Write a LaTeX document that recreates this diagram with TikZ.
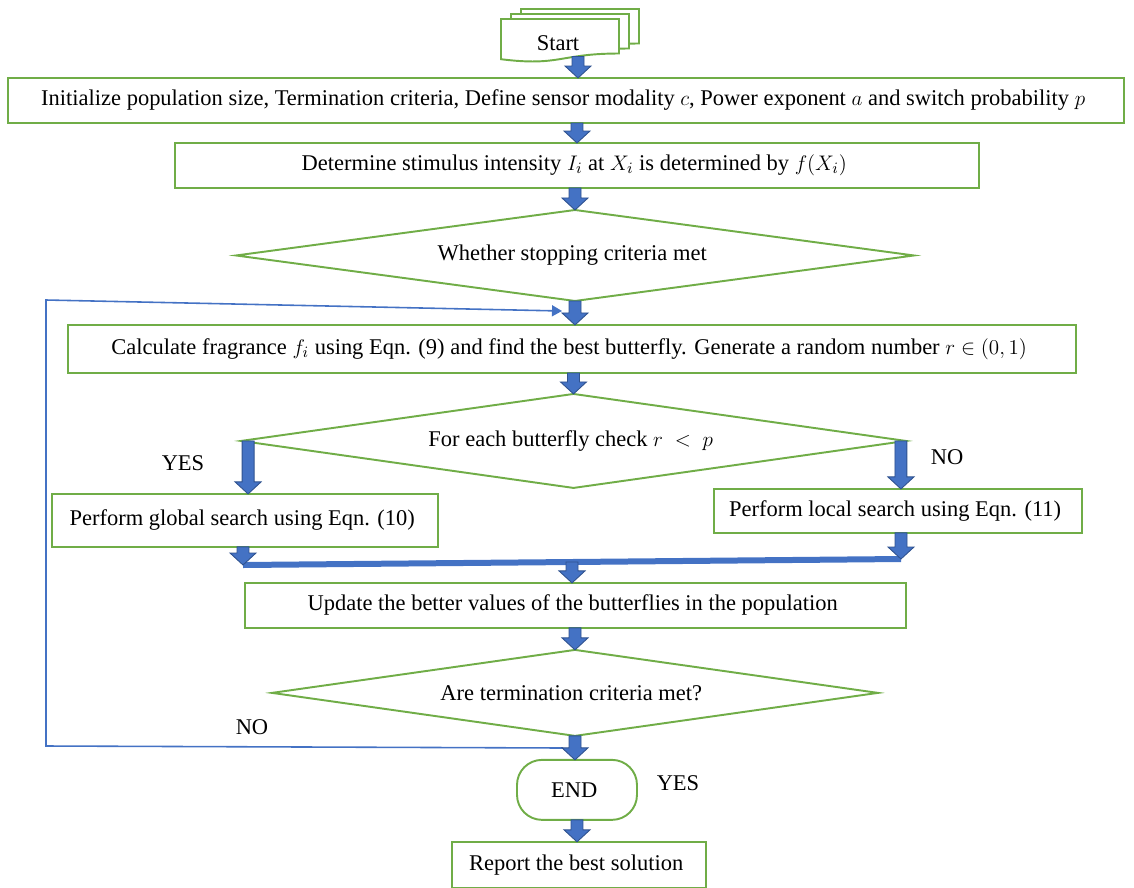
\documentclass[tikz,border=0pt]{standalone}
\usepackage{fontspec}
\setmainfont{Liberation Serif}
\usetikzlibrary{
  shapes.geometric,
  positioning,
  calc,
  arrows.meta}
\definecolor{boxcolor}{RGB}{112,173,71}
\definecolor{arrowcolor}{RGB}{68,114,196}
\definecolor{arrowedgecolor}{RGB}{47,82,143}
\tikzset{
  docstack/.pic = {
    \foreach \dx/\dy in {20/-10, 10/-5, 0/0}{
      \filldraw [fill=white, draw=boxcolor, line width=1.1pt, shift={(\dx,\dy)}]
        (0, 0) -- (118, 0) -- (118, 34.5)
        .. controls (59, 34.5) and (59, 47.6) .. (0, 40.2) -- cycle;
    }
    \node (-m) at (57, 24) {Start};
    \coordinate (-b) at (77, 37.5);
  }
}
\tikzset{
  %% process : a processing step
  process/.style={
    rectangle,
    draw=boxcolor,
    line width=1.1pt,
    fill=white,
    inner sep=0pt,
    outer sep=0pt,
    align=center
  },
  %% decision : a yes/no question
  decision/.style={
    diamond,
    aspect=7,
    draw=boxcolor,
    line width=1.1pt,
    fill=white,
    inner sep=0pt,
    outer sep=0pt,
    align=center
  },
  %% terminal : end of the run
  terminal/.style={
    rectangle,
    rounded corners=0.5cm,
    draw=boxcolor,
    line width=1.1pt,
    inner sep=0pt,
    outer sep=0pt,
    align=center
  },
  %% flow : block arrow from one step down to the next
  %%      (vertical only, use as \draw [flow] (a) to (b);)
  flow/.style={
    draw=arrowedgecolor,
    fill=arrowcolor,
    line width=0.5pt,
    to path={let \p1=(\tikztostart), \p2=(\tikztotarget) in
      (\x1-0.12cm, \y1) -- (\x1-0.12cm, \y2+0.24cm)
      -- (\x1-0.26cm, \y2+0.24cm) -- (\x1, \y2)
      -- (\x1+0.26cm, \y2+0.24cm) -- (\x1+0.12cm, \y2+0.24cm)
      -- (\x1+0.12cm, \y1) -- cycle}
  },
  %% joinbar : thick bar that joins both branches
  joinbar/.style={arrowcolor, line width=0.12cm},
  %% loopback : thin line back to the top of the loop
  loopback/.style={
    arrowcolor,
    line width=0.9pt,
    -{Triangle[length=0.2cm, width=0.22cm]}
  }
}

\begin{document}
\begin{tikzpicture}
  [x=0.02cm,
  y=-0.02cm,
  font=\fontsize{12.8}{15}\selectfont]

  \useasboundingbox (0, 0) rectangle (1134, 887);

  %% Main workflow
  \pic (start) at (501, 19) {docstack};

  \node (init) [process, minimum width=22.32cm, minimum height=0.9cm]
  at (566, 100.5) {%
    Initialize population size, Termination criteria, Define sensor
    modality $c$, Power exponent $a$ and switch probability $p$
  };

  \node (intensity) [below=0.4cm of init, xshift=0.22cm, process,
  minimum width=16.08cm, minimum height=0.9cm]{%
    Determine stimulus intensity $I_i$ at $X_i$ is determined by $f(X_i)$
  };

  \node (stopcheck) [below=0.44cm of intensity, xshift=-0.04cm, decision,
  minimum width=13.56cm, minimum height=1.82cm]{%
    Whether stopping criteria met
  };

  \node (fragrance) [below=0.48cm of stopcheck, xshift=-0.06cm, process,
  minimum width=20.16cm, minimum height=0.96cm]{%
    Calculate fragrance $f_i$ using Eqn. (9) and find the best butterfly.
    Generate a random number $r \in (0,1)$
  };

  \node (switch) [below=0.42cm of fragrance, xshift=0.03cm, decision,
  minimum width=13.3cm, minimum height=1.88cm]{%
    For each butterfly check $r\;<\;p$
  };

  \node (global) [below=1.06cm of switch.west, xshift=0.08cm, process,
  minimum width=7.72cm, minimum height=1.06cm]{%
    Perform global search using Eqn. (10)
  };

  \node (local) [below=0.96cm of switch.east, xshift=-0.16cm, process,
  minimum width=7.36cm, minimum height=0.88cm]{%
    Perform local search using Eqn. (11)
  };

  \node (update) [below=1.9cm of switch, xshift=0.04cm, process,
  minimum width=13.22cm, minimum height=0.9cm]{%
    Update the better values of the butterflies in the population
  };

  \node (endcheck) [below=0.44cm of update, xshift=-0.01cm, decision,
  minimum width=12.12cm, minimum height=1.72cm]{%
    Are termination criteria met?
  };

  \node (stop) [below=0.48cm of endcheck, xshift=0.04cm, terminal,
  minimum width=2.4cm, minimum height=1.2cm]{%
    END
  };

  \node (report) [below=0.44cm of stop, xshift=0.04cm, process,
  minimum width=5.08cm, minimum height=0.92cm]{%
    Report the best solution
  };

  %% Loop back when the run is not finished
  \coordinate (loopout) at (563, 748);
  \coordinate (loopin) at (562, 311);
  \draw [loopback] (loopout) -- (46, 746) -- (46, 300) -- (loopin);

  %% Connections
  \draw [flow] (start-b) to (start-b |- init.north);
  \draw [flow] (intensity.north |- init.south) to (intensity.north);
  \draw [flow] (stopcheck.north |- intensity.south) to (stopcheck.north);
  \draw [flow] (stopcheck.south) to (stopcheck.south |- fragrance.north);
  \draw [flow] (switch.north |- fragrance.south) to (switch.north);

  % Branches of the switch
  \coordinate (yesfork) at ($(switch.west)+(7, 0)$);
  \coordinate (nofork) at ($(switch.east)+(-5, 0)$);
  \draw [flow] (yesfork) to (yesfork |- global.north);
  \draw [flow] (nofork) to (nofork |- local.north);

  % Join of the branches
  \coordinate (joinleft) at (243, 565);
  \coordinate (joinright) at (901, 559);
  \draw [joinbar] (joinleft) -- (joinright);
  \draw [flow] (global.south -| joinleft) to (joinleft);
  \draw [flow] (local.south -| joinright) to (joinright);
  \coordinate (joinmid) at ($(joinleft)!0.5!(joinright)$);
  \draw [flow] (joinmid) to (joinmid |- update.north);

  \draw [flow] (endcheck.north |- update.south) to (endcheck.north);
  \draw [flow] (endcheck.south) to (endcheck.south |- stop.north);
  \draw [flow] (stop.south) to (stop.south |- report.north);

  %% Labels
  \node (yesswitch) at (183, 463) {YES};
  \node (noswitch) at (947, 457) {NO};
  \node (noend) at (252, 727) {NO};
  \node (yesend) at (678, 783) {YES};

\end{tikzpicture}
\end{document}
